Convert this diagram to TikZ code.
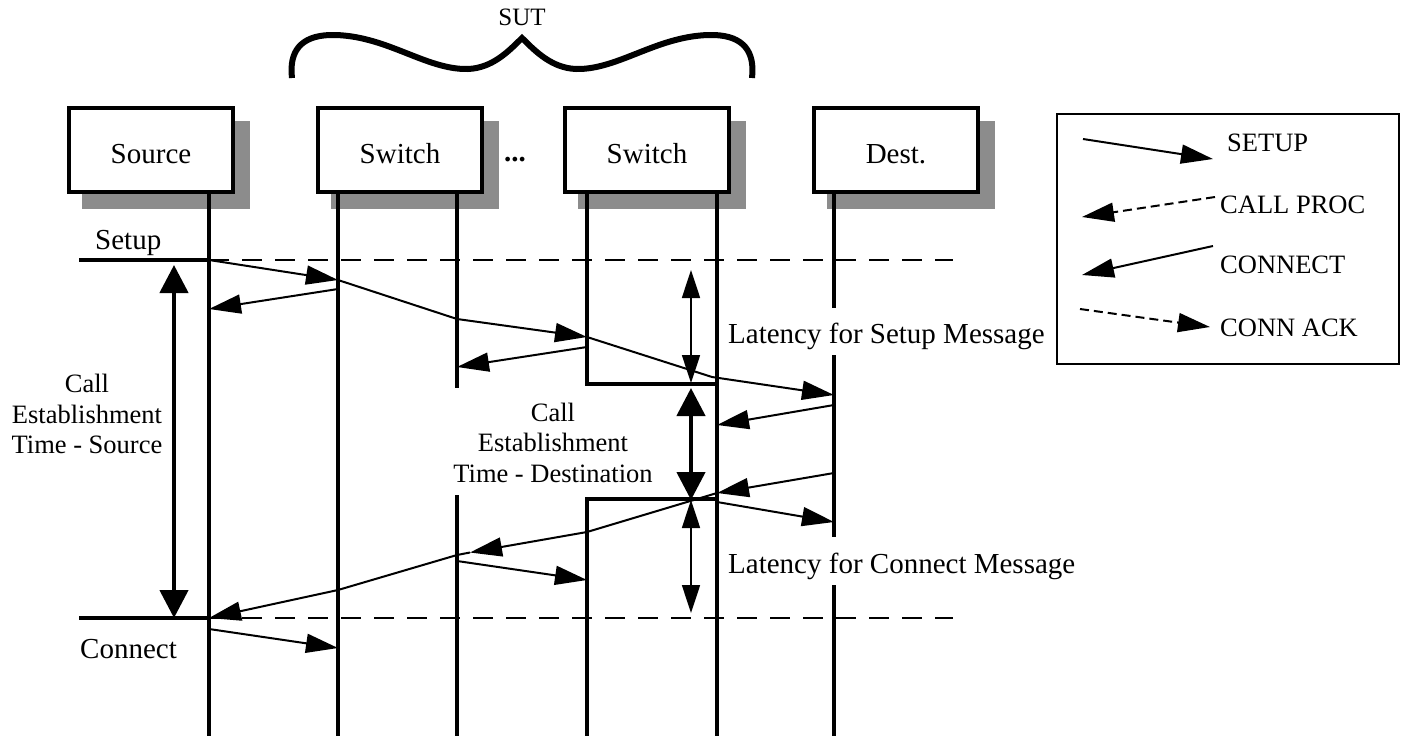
\documentclass[tikz,border=0pt]{standalone}
\usepackage{fontspec}
\setmainfont{Liberation Serif}
\usetikzlibrary{arrows.meta}
\definecolor{shadowgray}{RGB}{140,140,140}
\begin{document}
\begin{tikzpicture}[x=1pt,y=-1pt,
  entity/.style={draw, line width=4.5pt, fill=white, minimum width=164pt, minimum height=84pt,
                 inner sep=0pt, text height=26pt, text depth=0pt, font=\fontsize{29}{33}\selectfont},
  shadowbox/.style={fill=shadowgray, minimum width=168pt, minimum height=88pt, inner sep=0pt},
  life/.style={line width=4.3pt},
  msg/.style={line width=2pt, -{Triangle[length=32pt,width=19pt]}},
  relay/.style={line width=2pt},
  legdash/.style={msg, dash pattern=on 9pt off 5pt},
  latthin/.style={line width=1.7pt, {Triangle[length=28pt,width=18pt]}-{Triangle[length=28pt,width=18pt]}},
  latthick/.style={line width=4.5pt, {Triangle[length=28pt,width=28pt]}-{Triangle[length=28pt,width=28pt]}},
  guide/.style={line width=1.2pt, dash pattern=on 20pt off 13pt},
  marker/.style={line width=4.5pt},
  brace/.style={line width=6pt, line join=miter},
  lbl/.style={font=\fontsize{29}{33}\selectfont, inner sep=0pt, anchor=base west},
  est/.style={font=\fontsize{26.5}{30.5}\selectfont, inner sep=0pt, align=center},
  leg/.style={font=\fontsize{26.5}{30}\selectfont, inner sep=0pt, anchor=base west}
]
\fill[white] (0,0) rectangle (1406,736);
\useasboundingbox (0,0) rectangle (1406,736);

% SUT brace
\node[font=\fontsize{25}{28}\selectfont, inner sep=0pt, anchor=base] (sut) at (522,25) {SUT};
\draw[brace] (292,78) .. controls (289,52) and (300,36) .. (330,35)
  .. controls (385,34) and (425,70) .. (468,69)
  .. controls (492,68) and (508,52) .. (522,38)
  .. controls (536,52) and (552,68) .. (576,69)
  .. controls (619,70) and (659,34) .. (714,35)
  .. controls (744,36) and (755,52) .. (752,78);

% shadows
\node[shadowbox] (shS) at (166,165) {};
\node[shadowbox] (shA) at (415,165) {};
\node[shadowbox] (shB) at (662,165) {};
\node[shadowbox] (shD) at (911,165) {};

% lifeline coordinates
\coordinate (top) at (0,194);
\coordinate (bot) at (0,736);
\coordinate (xS) at (209,0);
\coordinate (xA) at (338,0);
\coordinate (xA2) at (457,0);
\coordinate (xB) at (587,0);
\coordinate (xB2) at (717,0);
\coordinate (xD) at (834,0);

% lifelines
\draw[life] (xS |- top) -- (xS |- bot);
\draw[life] (xA |- top) -- (xA |- bot);
\draw[life] (xA2 |- top) -- (457,388);
\draw[life] (457,495) -- (xA2 |- bot);
\draw[life] (xB |- top) -- (587,384) -- (717,384);
\draw[life] (xB |- bot) -- (587,499) -- (717,499);
\draw[life] (xB2 |- top) -- (xB2 |- bot);
\draw[life] (xD |- top) -- (834,308);
\draw[life] (834,355) -- (834,537);
\draw[life] (834,585) -- (xD |- bot);

% boxes
\node[entity] (src) at (151,150) {Source};
\node[entity] (sw1) at (400,150) {Switch};
\node[entity] (sw2) at (647,150) {Switch};
\node[entity] (dst) at (896,150) {Dest.};
\node[font=\fontsize{29}{33}\selectfont\bfseries, inner sep=0pt, anchor=base] (dots) at (515,161) {...};

% guide lines and markers
\coordinate (g1) at (209,260);
\coordinate (g1e) at (953,260);
\coordinate (g0) at (79,260);
\coordinate (g2) at (209,618);
\coordinate (g2e) at (953,618);
\coordinate (g3) at (79,618);
\draw[guide] (g1) -- (g1e);
\draw[guide] (g2) -- (g2e);
\draw[marker] (g0) -- (g1);
\draw[marker] (g3) -- (g2);
\node[lbl] (setuplbl) at (95,249) {Setup};
\node[lbl] (connlbl) at (80,658) {Connect};

% SETUP chain
\coordinate (S0) at (209,260);
\coordinate (S1) at (338,280);
\coordinate (S2) at (457,319);
\coordinate (S3) at (587,337);
\coordinate (S4) at (712,377);
\coordinate (S5) at (834,395);
\draw[msg] (S0) -- (S1);
\draw[relay] (S1) -- (S2);
\draw[msg] (S2) -- (S3);
\draw[relay] (S3) -- (S4);
\draw[msg] (S4) -- (S5);

% CALL PROC
\coordinate (P1a) at (338,289); \coordinate (P1b) at (209,309);
\coordinate (P2a) at (587,347); \coordinate (P2b) at (457,367);
\coordinate (P3a) at (834,405); \coordinate (P3b) at (717,425);
\draw[msg] (P1a) -- (P1b);
\draw[msg] (P2a) -- (P2b);
\draw[msg] (P3a) -- (P3b);

% CONNECT chain
\coordinate (C0) at (834,473);
\coordinate (C1) at (717,493);
\coordinate (C2) at (587,532);
\coordinate (C2t) at (470,552.5);
\coordinate (C3) at (457,555);
\coordinate (C4) at (338,590);
\coordinate (C5) at (209,618);
\draw[msg] (C0) -- (C1);
\draw[relay] (C1) -- (C2);
\draw[msg] (C2) -- (C2t);
\draw[relay] (C2t) -- (C3) -- (C4);
\draw[msg] (C4) -- (C5);

% CONN ACK
\coordinate (A1a) at (717,502); \coordinate (A1b) at (834,522);
\coordinate (A2a) at (457,561); \coordinate (A2b) at (587,580);
\coordinate (A3a) at (209,629); \coordinate (A3b) at (338,648);
\draw[msg] (A1a) -- (A1b);
\draw[msg] (A2a) -- (A2b);
\draw[msg] (A3a) -- (A3b);

% timing arrows
\coordinate (T1) at (174,265); \coordinate (T2) at (174,618);
\draw[latthick] (T1) -- (T2);
\coordinate (L1) at (691,270); \coordinate (L2) at (691,383);
\coordinate (L3) at (691,388); \coordinate (L4) at (691,500);
\coordinate (L5) at (691,500); \coordinate (L6) at (691,613);
\draw[latthin] (L1) -- (L2);
\draw[latthick] (L3) -- (L4);
\draw[latthin] (L5) -- (L6);

\node[est] (estS) at (87,414) {Call\\Establishment\\Time - Source};
\node[est] (estD) at (553,442.5) {Call\\Establishment\\Time - Destination};
\node[lbl] (latS) at (728,343) {Latency for Setup Message};
\node[lbl] (latC) at (728,573) {Latency for Connect Message};

% legend
\node[draw, line width=2pt, minimum width=342pt, minimum height=250pt, inner sep=0pt] (legend) at (1228,239) {};
\coordinate (K1a) at (1083,139); \coordinate (K1b) at (1213,159);
\coordinate (K2a) at (1215,197); \coordinate (K2b) at (1082,217);
\coordinate (K3a) at (1213,246); \coordinate (K3b) at (1082,275);
\coordinate (K4a) at (1080,309); \coordinate (K4b) at (1210,327);
\draw[msg] (K1a) -- (K1b);
\draw[legdash] (K2a) -- (K2b);
\draw[msg] (K3a) -- (K3b);
\draw[legdash] (K4a) -- (K4b);
\node[leg] (k1) at (1227,151) {SETUP};
\node[leg] (k2) at (1220,213) {CALL PROC};
\node[leg] (k3) at (1220,273) {CONNECT};
\node[leg] (k4) at (1220,336) {CONN ACK};
\end{tikzpicture}
\end{document}
